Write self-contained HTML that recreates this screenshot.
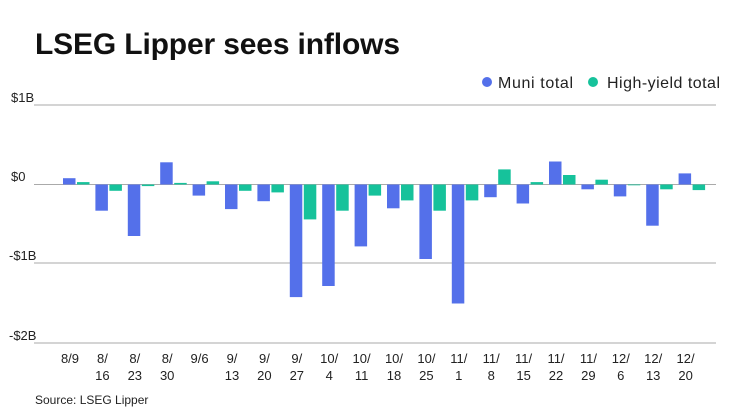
<!DOCTYPE html>
<html><head><meta charset="utf-8"><style>
body{margin:0;background:#fff}
svg{display:block;font-family:"Liberation Sans",sans-serif}
</style></head><body>
<svg width="740" height="416" viewBox="0 0 740 416">
<text x="35" y="54" font-size="30" font-weight="bold" fill="#111" textLength="365">LSEG Lipper sees inflows</text>
<circle cx="487" cy="82" r="5" fill="#5470ea"/>
<text x="498" y="88" font-size="16" fill="#222" textLength="75">Muni total</text>
<circle cx="593" cy="82" r="5" fill="#16c29b"/>
<text x="607" y="88" font-size="16" fill="#222" textLength="113">High-yield total</text>
<g stroke="#aaa" stroke-width="1">
<line x1="34" x2="716" y1="105" y2="105"/><line x1="34" x2="716" y1="184.5" y2="184.5"/>
<line x1="34" x2="716" y1="263" y2="263"/><line x1="34" x2="716" y1="343" y2="343"/>
</g>
<g font-size="13" fill="#222">
<text x="11" y="102">$1B</text><text x="11" y="181">$0</text>
<text x="9" y="260">-$1B</text><text x="9" y="340">-$2B</text>
</g>
<g fill="#5470ea">
<rect x="63" y="178.2" width="12.5" height="6.3"/>
<rect x="95.4" y="184.5" width="12.5" height="26.2"/>
<rect x="127.8" y="184.5" width="12.5" height="51.5"/>
<rect x="160.2" y="162.3" width="12.5" height="22.2"/>
<rect x="192.6" y="184.5" width="12.5" height="11.1"/>
<rect x="225" y="184.5" width="12.5" height="24.6"/>
<rect x="257.4" y="184.5" width="12.5" height="16.7"/>
<rect x="289.8" y="184.5" width="12.5" height="112.6"/>
<rect x="322.2" y="184.5" width="12.5" height="101.5"/>
<rect x="354.6" y="184.5" width="12.5" height="61.9"/>
<rect x="387" y="184.5" width="12.5" height="23.8"/>
<rect x="419.4" y="184.5" width="12.5" height="74.5"/>
<rect x="451.8" y="184.5" width="12.5" height="119"/>
<rect x="484.2" y="184.5" width="12.5" height="12.7"/>
<rect x="516.6" y="184.5" width="12.5" height="19"/>
<rect x="549" y="161.5" width="12.5" height="23"/>
<rect x="581.4" y="184.5" width="12.5" height="4.8"/>
<rect x="613.8" y="184.5" width="12.5" height="11.9"/>
<rect x="646.2" y="184.5" width="12.5" height="41.2"/>
<rect x="678.6" y="173.4" width="12.5" height="11.1"/>
</g>
<g fill="#16c29b">
<rect x="77" y="182.1" width="12.5" height="2.4"/>
<rect x="109.4" y="184.5" width="12.5" height="6.3"/>
<rect x="141.8" y="184.5" width="12.5" height="1.6"/>
<rect x="174.2" y="182.9" width="12.5" height="1.6"/>
<rect x="206.6" y="181.3" width="12.5" height="3.2"/>
<rect x="239" y="184.5" width="12.5" height="6.3"/>
<rect x="271.4" y="184.5" width="12.5" height="7.9"/>
<rect x="303.8" y="184.5" width="12.5" height="34.9"/>
<rect x="336.2" y="184.5" width="12.5" height="26.2"/>
<rect x="368.6" y="184.5" width="12.5" height="11.1"/>
<rect x="401" y="184.5" width="12.5" height="15.9"/>
<rect x="433.4" y="184.5" width="12.5" height="26.2"/>
<rect x="465.8" y="184.5" width="12.5" height="15.9"/>
<rect x="498.2" y="169.4" width="12.5" height="15.1"/>
<rect x="530.6" y="182.1" width="12.5" height="2.4"/>
<rect x="563" y="175" width="12.5" height="9.5"/>
<rect x="595.4" y="179.7" width="12.5" height="4.8"/>
<rect x="627.8" y="184.5" width="12.5" height="0.8"/>
<rect x="660.2" y="184.5" width="12.5" height="4.8"/>
<rect x="692.6" y="184.5" width="12.5" height="5.6"/>
</g>
<g font-size="13" fill="#222" text-anchor="middle">
<text x="70" y="363">8/9</text>
<text x="102.4" y="363">8/</text><text x="102.4" y="380">16</text>
<text x="134.8" y="363">8/</text><text x="134.8" y="380">23</text>
<text x="167.2" y="363">8/</text><text x="167.2" y="380">30</text>
<text x="199.6" y="363">9/6</text>
<text x="232" y="363">9/</text><text x="232" y="380">13</text>
<text x="264.4" y="363">9/</text><text x="264.4" y="380">20</text>
<text x="296.8" y="363">9/</text><text x="296.8" y="380">27</text>
<text x="329.2" y="363">10/</text><text x="329.2" y="380">4</text>
<text x="361.6" y="363">10/</text><text x="361.6" y="380">11</text>
<text x="394" y="363">10/</text><text x="394" y="380">18</text>
<text x="426.4" y="363">10/</text><text x="426.4" y="380">25</text>
<text x="458.8" y="363">11/</text><text x="458.8" y="380">1</text>
<text x="491.2" y="363">11/</text><text x="491.2" y="380">8</text>
<text x="523.6" y="363">11/</text><text x="523.6" y="380">15</text>
<text x="556" y="363">11/</text><text x="556" y="380">22</text>
<text x="588.4" y="363">11/</text><text x="588.4" y="380">29</text>
<text x="620.8" y="363">12/</text><text x="620.8" y="380">6</text>
<text x="653.2" y="363">12/</text><text x="653.2" y="380">13</text>
<text x="685.6" y="363">12/</text><text x="685.6" y="380">20</text>
</g>
<text x="35" y="404" font-size="12" fill="#222">Source: LSEG Lipper</text>
</svg>
</body></html>
